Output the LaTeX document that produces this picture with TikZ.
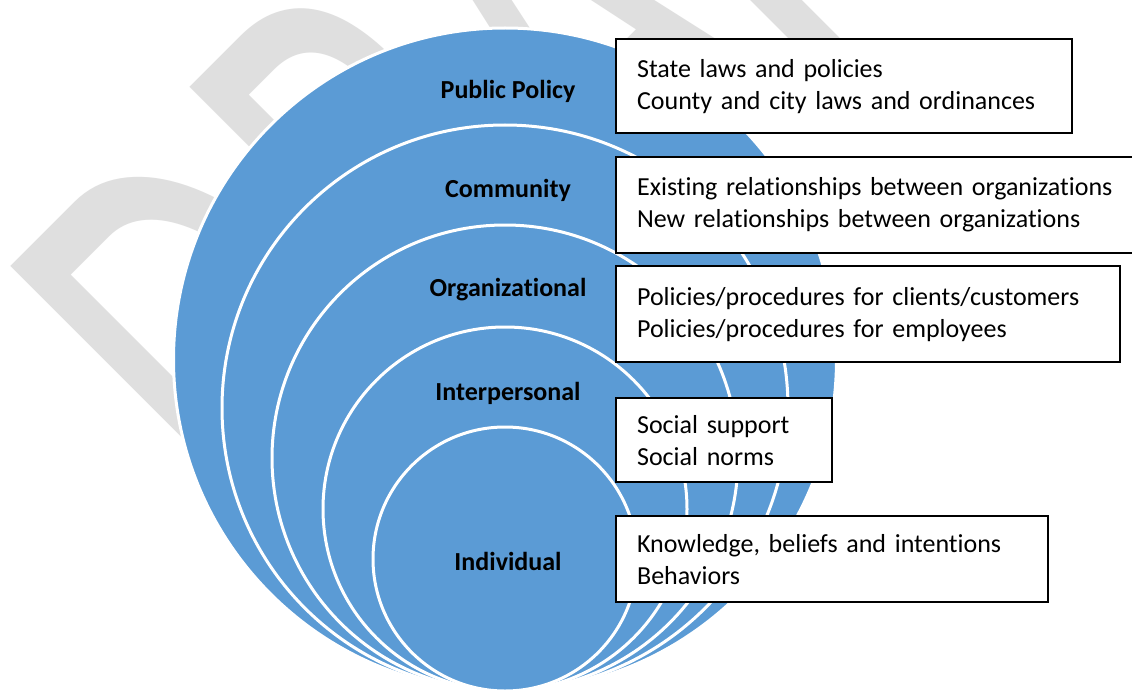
\documentclass[tikz,border=0pt]{standalone}
\usepackage{fontspec}
\setmainfont{Carlito}[Ligatures=NoCommon]
\definecolor{ringblue}{RGB}{91,155,213}
\definecolor{wmgray}{RGB}{223,223,223}
\begin{document}
\begin{tikzpicture}[x=1pt,y=-1pt,
  ring/.style={circle,draw=white,line width=3pt,fill=ringblue,inner sep=0pt},
  lvl/.style={font=\fontsize{26}{31}\selectfont\bfseries,text=black,inner sep=0pt},
  infobox/.style={draw=black,line width=2.2pt,fill=white,anchor=north west,align=left,
    inner xsep=21pt,inner ysep=0pt,font=\fontsize{26}{32}\selectfont}]
\useasboundingbox (0,0) rectangle (1132,690);
\clip (0,0) rectangle (1132,690);
\fill[white] (0,0) rectangle (1132,690);
% watermark (stretched, diagonal)
\begin{scope}[shift={(300,596)},rotate=45,xscale=1.025,yscale=1.705]
\node[transform shape,anchor=base west,inner sep=0pt,text=wmgray,font=\fontsize{400}{400}\selectfont] (wm) at (0,0) {DRAFT};
\end{scope}
% nested circles
\node[ring,minimum size=663pt] (c1) at (505,359.5) {};
\node[ring,minimum size=566pt] (c2) at (505,408) {};
\node[ring,minimum size=466pt] (c3) at (505,458) {};
\node[ring,minimum size=364pt] (c4) at (505,509) {};
\node[ring,minimum size=264pt] (c5) at (505,559) {};
% level labels
\node[lvl] (l1) at (508,91) {Public Policy};
\node[lvl] (l2) at (508,190) {Community};
\node[lvl] (l3) at (508,290) {Organizational};
\node[lvl] (l4) at (508,393) {Interpersonal};
\node[lvl] (l5) at (508,561) {Individual};
% boxes
\node[infobox,text width=414pt,minimum height=94pt] (b1) at (615,38) {State laws and policies\\County and city laws and ordinances};
\node[infobox,text width=500pt,minimum height=96pt] (b2) at (615,156) {Existing relationships between organizations\\New relationships between organizations};
\node[infobox,text width=462pt,minimum height=96pt] (b3) at (615,265) {Policies/procedures for clients/customers\\Policies/procedures for employees};
\node[infobox,text width=174pt,minimum height=84pt] (b4) at (615,397) {Social support\\Social norms};
\node[infobox,text width=390pt,minimum height=86pt] (b5) at (615,515) {Knowledge, beliefs and intentions\\Behaviors};
\end{tikzpicture}
\end{document}
